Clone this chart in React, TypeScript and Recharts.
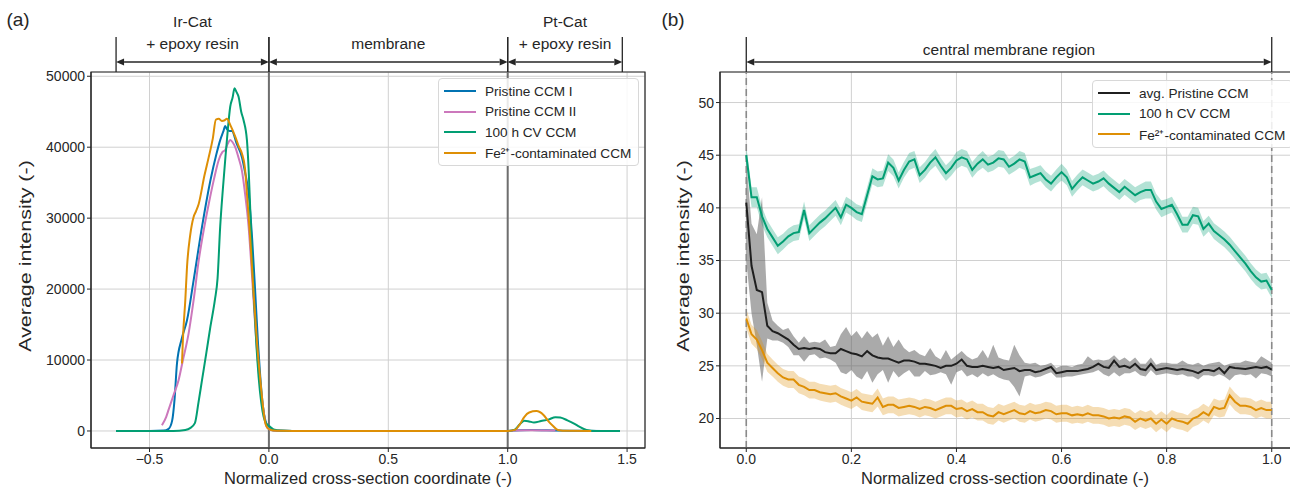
import React from 'react';
import {
  ComposedChart,
  Line,
  Area,
  XAxis,
  YAxis,
  CartesianGrid,
  ReferenceLine,
  ReferenceArea,
  Legend,
} from 'recharts';

const FONT = '"Liberation Sans", Arial, Helvetica, sans-serif';
const INK = '#262626';
const GRID = '#d0d0d0';

const C_BLUE = '#0173B2';
const C_PINK = '#CC78BC';
const C_GREEN = '#029E73';
const C_ORANGE = '#DE8F05';
const C_BLACK = '#1f1f1f';

// ---------------- Panel (a): full cross-section profiles ----------------
const seriesNamesA = ['Pristine CCM I', 'Pristine CCM II', '100 h CV CCM', 'Fe\u00B2\u207A-contaminated CCM'];

const pristineIX = [-0.64, -0.5, -0.44, -0.42, -0.405, -0.395, -0.385, -0.365, -0.343, -0.315, -0.28, -0.245, -0.22, -0.204, -0.19, -0.183, -0.175, -0.165, -0.155, -0.135, -0.113, -0.1, -0.085, -0.07, -0.057, -0.045, -0.036, -0.025, -0.015, -0.005, 0.005, 0.02, 0.05, 0.1, 0.5, 1.0, 1.05, 1.1, 1.2, 1.3, 1.47];
const pristineIY = [0, 0, 50, 300, 1500, 4500, 9500, 13000, 15600, 21300, 28800, 35300, 39000, 41000, 42300, 43000, 42500, 42300, 42300, 40500, 38600, 36500, 33500, 27000, 19400, 12000, 7600, 3500, 1500, 600, 250, 80, 30, 10, 0, 0, 100, 120, 60, 20, 0];

const pristineIIX = [-0.448, -0.43, -0.42, -0.4, -0.378, -0.36, -0.336, -0.315, -0.294, -0.272, -0.252, -0.23, -0.21, -0.195, -0.183, -0.172, -0.162, -0.152, -0.141, -0.127, -0.113, -0.1, -0.085, -0.07, -0.057, -0.043, -0.029, -0.018, -0.008, 0.005, 0.02, 0.05, 0.1, 0.5, 1.0, 1.03, 1.1, 1.2];
const pristineIIY = [800, 2000, 3000, 5000, 7200, 10000, 13800, 18500, 24000, 28500, 32000, 35500, 38200, 39300, 39600, 40500, 41000, 40700, 40000, 38500, 36700, 33500, 28800, 21500, 14700, 8500, 4400, 1800, 500, 200, 80, 30, 10, 0, 0, 80, 100, 60];

const cv100X = [-0.64, -0.4, -0.35, -0.33, -0.31, -0.295, -0.28, -0.262, -0.245, -0.226, -0.215, -0.204, -0.193, -0.183, -0.172, -0.162, -0.152, -0.144, -0.136, -0.127, -0.116, -0.106, -0.092, -0.085, -0.078, -0.064, -0.053, -0.043, -0.032, -0.022, -0.01, 0.005, 0.02, 0.05, 0.1, 0.5, 1.0, 1.03, 1.05, 1.07, 1.09, 1.11, 1.14, 1.17, 1.2, 1.22, 1.25, 1.28, 1.3, 1.33, 1.37, 1.47];
const cv100Y = [0, 0, 150, 400, 1100, 4000, 7200, 11000, 14700, 18500, 21500, 28800, 34000, 38200, 42500, 45700, 47000, 48300, 47800, 47100, 45000, 43800, 41000, 37000, 31100, 19400, 12500, 7600, 4000, 2000, 1000, 600, 200, 50, 10, 0, 0, 200, 900, 1450, 1350, 1200, 1400, 1600, 1950, 1900, 1500, 1000, 600, 150, 0, 0];

const feX = [-0.364, -0.36, -0.35, -0.343, -0.33, -0.315, -0.305, -0.294, -0.27, -0.252, -0.235, -0.222, -0.21, -0.197, -0.185, -0.176, -0.16, -0.141, -0.127, -0.113, -0.1, -0.092, -0.078, -0.064, -0.05, -0.036, -0.025, -0.015, -0.005, 0.005, 0.02, 0.05, 0.1, 0.5, 1.0, 1.03, 1.05, 1.07, 1.09, 1.12, 1.15, 1.17, 1.19, 1.21, 1.25, 1.35];
const feY = [9500, 13000, 18500, 23100, 27500, 30200, 31000, 32000, 36000, 38600, 41200, 43900, 44000, 43700, 43800, 44000, 43000, 41500, 40200, 39100, 37000, 33500, 27000, 19400, 12500, 7200, 3500, 1100, 400, 200, 60, 20, 10, 0, 0, 150, 900, 2000, 2600, 2800, 2250, 1400, 700, 150, 20, 0];

const ticksAX = [-0.5, 0, 0.5, 1.0, 1.5];
const ticksAY = [0, 10000, 20000, 30000, 40000, 50000];
const domainAX: [number, number] = [-0.745, 1.575];
const domainAY: [number, number] = [-2400, 50600];

const regionBoundsA = [-0.64, 0, 1.0, 1.48];
const regionLabelsA = [['Ir-Cat', '+ epoxy resin'], ['membrane'], ['Pt-Cat', '+ epoxy resin']];
const layerLinesA = [0, 1.0];

// ---------------- Panel (b): central membrane region ----------------
const seriesNamesB = ['avg. Pristine CCM', '100 h CV CCM', 'Fe\u00B2\u207A-contaminated CCM'];
const coordB = Array.from({ length: 101 }, (_, i) => i / 100);

const pristineAvg = [40.5, 34.5, 32.2, 32.0, 28.8, 28.3, 28.1, 27.8, 27.5, 27.0, 26.6, 26.7, 26.6, 26.7, 26.6, 26.3, 26.2, 26.2, 26.6, 26.4, 26.2, 26.1, 25.9, 26.4, 26.0, 25.8, 25.7, 25.7, 25.5, 25.3, 25.5, 25.5, 25.4, 25.2, 25.2, 25.1, 25.0, 24.8, 25.0, 25.0, 25.2, 25.6, 25.0, 24.9, 24.9, 25.0, 24.9, 24.8, 24.9, 24.6, 24.7, 24.8, 24.5, 24.6, 24.6, 24.4, 24.5, 24.7, 24.9, 24.3, 24.4, 24.5, 24.5, 24.5, 24.6, 24.7, 24.9, 25.2, 24.9, 24.8, 25.5, 24.9, 25.0, 24.8, 25.2, 24.7, 24.6, 25.2, 24.6, 24.7, 24.8, 24.7, 24.6, 24.7, 24.6, 24.5, 24.3, 24.6, 24.6, 24.5, 24.8, 24.3, 24.9, 24.8, 24.75, 24.7, 24.8, 24.9, 24.8, 24.9, 24.65];
const pristineLo = [35.0, 30.0, 27.0, 23.5, 27.6, 27.4, 27.4, 27.2, 26.8, 26.0, 26.0, 25.4, 26.0, 26.1, 25.7, 25.8, 25.6, 25.3, 24.4, 24.2, 24.6, 24.0, 23.7, 24.5, 23.4, 24.2, 24.6, 23.4, 24.5, 23.9, 24.3, 24.6, 24.0, 24.0, 24.5, 24.1, 24.2, 24.4, 24.2, 23.2, 24.4, 24.6, 24.0, 24.2, 23.9, 24.3, 24.0, 24.2, 23.9, 23.7, 23.6, 23.0, 22.1, 24.0, 24.1, 23.9, 24.0, 24.2, 24.4, 23.9, 23.9, 24.0, 24.0, 24.1, 24.2, 24.3, 24.4, 24.6, 24.2, 24.0, 24.4, 24.0, 24.3, 24.3, 24.5, 24.1, 24.0, 24.6, 24.1, 24.2, 24.3, 24.2, 24.1, 24.2, 24.0, 24.0, 23.7, 24.1, 24.1, 24.0, 24.2, 24.0, 23.6, 24.1, 24.2, 24.1, 24.2, 23.8, 24.3, 24.2, 24.0];
const pristineHi = [44.5, 38.5, 37.5, 41.0, 31.0, 29.3, 28.8, 28.4, 28.6, 27.8, 27.2, 27.8, 27.2, 27.3, 27.2, 27.5, 26.8, 26.9, 28.0, 28.7, 27.8, 28.3, 27.6, 28.3, 27.7, 28.1, 26.9, 27.8, 26.8, 27.5, 26.7, 26.3, 26.5, 26.1, 25.9, 26.7, 25.9, 25.6, 26.5, 25.6, 26.0, 26.4, 25.9, 25.6, 25.8, 26.5, 25.7, 27.0, 25.8, 25.6, 25.5, 27.0, 26.0, 25.3, 25.2, 25.3, 25.0, 25.1, 25.3, 24.8, 25.0, 25.0, 24.9, 25.1, 25.2, 25.9, 25.5, 25.6, 25.5, 25.6, 26.0, 25.5, 25.8, 25.4, 25.8, 25.2, 25.2, 25.8, 25.1, 25.3, 25.3, 25.2, 25.2, 25.5, 25.2, 25.1, 25.3, 25.0, 25.2, 25.3, 25.4, 25.0, 25.2, 25.3, 25.3, 25.5, 25.4, 25.3, 25.9, 25.6, 25.3];

const cvCentral = [45.0, 41.0, 41.0, 39.2, 38.0, 37.2, 36.4, 36.8, 37.3, 37.6, 37.7, 39.8, 37.6, 38.1, 38.6, 39.0, 39.5, 40.0, 39.1, 40.3, 40.0, 39.6, 39.4, 41.2, 43.0, 42.7, 42.8, 44.3, 43.8, 42.6, 43.6, 44.4, 44.6, 43.1, 43.6, 44.3, 44.8, 44.0, 43.3, 43.8, 44.5, 44.8, 44.6, 43.6, 44.2, 44.6, 44.1, 44.3, 44.7, 44.6, 43.9, 44.2, 44.6, 44.4, 42.9, 43.1, 43.3, 42.7, 42.3, 42.9, 43.4, 42.9, 41.8, 42.4, 42.9, 42.6, 42.3, 42.5, 42.8, 42.3, 41.9, 41.5, 42.0, 41.6, 41.2, 41.5, 41.7, 41.7, 40.6, 39.9, 40.1, 40.3, 39.4, 38.4, 38.4, 39.3, 39.2, 38.0, 38.5, 37.8, 37.4, 37.0, 36.5, 35.9, 35.3, 34.7, 34.0, 33.4, 33.0, 33.1, 32.2];
const cvErr = [0.9, 0.95, 0.95, 0.85, 0.8, 0.8, 0.8, 0.75, 0.75, 0.75, 0.75, 0.8, 0.75, 0.75, 0.75, 0.75, 0.75, 0.75, 0.75, 0.75, 0.75, 0.75, 0.75, 0.75, 0.75, 0.75, 0.75, 0.8, 0.8, 0.75, 0.75, 0.8, 0.8, 0.75, 0.75, 0.75, 0.8, 0.75, 0.75, 0.75, 0.8, 0.8, 0.8, 0.75, 0.75, 0.8, 0.75, 0.75, 0.8, 0.8, 0.75, 0.75, 0.8, 0.8, 0.8, 0.75, 0.75, 0.75, 0.75, 0.75, 0.8, 0.75, 0.75, 0.75, 0.75, 0.75, 0.75, 0.75, 0.75, 0.75, 0.75, 0.75, 0.75, 0.75, 0.75, 0.75, 0.8, 0.8, 0.75, 0.8, 0.75, 0.75, 0.75, 0.75, 0.75, 0.8, 0.8, 0.75, 0.75, 0.75, 0.75, 0.75, 0.75, 0.75, 0.75, 0.75, 0.75, 0.75, 0.75, 0.75, 0.75];

const feCentral = [29.5, 28.0, 27.5, 26.5, 25.3, 24.8, 24.3, 23.9, 23.7, 23.7, 23.2, 23.0, 22.7, 22.7, 22.5, 22.4, 22.3, 22.4, 22.1, 21.9, 21.7, 22.0, 21.6, 21.5, 21.4, 22.0, 21.1, 21.3, 21.3, 21.0, 21.1, 21.2, 21.1, 20.9, 21.1, 21.0, 20.8, 21.0, 21.2, 21.2, 20.9, 21.0, 20.7, 20.9, 20.6, 20.6, 20.3, 20.2, 20.6, 20.4, 20.6, 20.8, 20.5, 20.4, 20.7, 20.5, 20.6, 20.8, 20.7, 20.4, 20.5, 20.5, 20.3, 20.4, 20.3, 20.5, 20.3, 20.3, 20.2, 20.0, 20.1, 20.0, 20.2, 20.1, 19.7, 20.0, 19.8, 20.0, 19.5, 19.9, 19.5, 20.0, 19.8, 19.7, 19.5, 20.0, 20.2, 20.6, 20.3, 21.1, 20.9, 21.0, 22.2, 21.6, 21.2, 21.2, 21.1, 20.8, 21.0, 20.8, 20.8];
const feErr = [0.9, 0.9, 0.9, 0.85, 0.85, 0.8, 0.8, 0.8, 0.8, 0.8, 0.8, 0.8, 0.8, 0.8, 0.8, 0.8, 0.8, 0.8, 0.8, 0.8, 0.8, 0.8, 0.8, 0.8, 0.8, 0.85, 0.8, 0.8, 0.8, 0.8, 0.8, 0.8, 0.8, 0.8, 0.8, 0.8, 0.8, 0.8, 0.8, 0.8, 0.8, 0.8, 0.8, 0.8, 0.8, 0.8, 0.8, 0.8, 0.8, 0.8, 0.8, 0.8, 0.8, 0.8, 0.8, 0.8, 0.8, 0.8, 0.8, 0.8, 0.8, 0.8, 0.8, 0.8, 0.8, 0.8, 0.8, 0.8, 0.8, 0.8, 0.8, 0.8, 0.8, 0.8, 0.8, 0.8, 0.8, 0.8, 0.8, 0.8, 0.8, 0.8, 0.8, 0.8, 0.8, 0.8, 0.8, 0.8, 0.8, 0.8, 0.8, 0.8, 0.85, 0.85, 0.8, 0.8, 0.8, 0.8, 0.8, 0.8, 0.8];

const ticksBX = [0, 0.2, 0.4, 0.6, 0.8, 1.0];
const ticksBY = [20, 25, 30, 35, 40, 45, 50];
const domainBX: [number, number] = [-0.05, 1.05];
const domainBY: [number, number] = [17.2, 52.9];
const regionBoundsB = [0, 1.0];
const regionLabelsB = [['central membrane region']];

const toXY = (xs: number[], ys: number[]) => xs.map((x, i) => ({ x, y: ys[i] }));

const tableB = coordB.map((x, i) => ({
  x,
  avg: pristineAvg[i],
  avgBand: [pristineLo[i], pristineHi[i]],
  cv: cvCentral[i],
  cvBand: [cvCentral[i] - cvErr[i], cvCentral[i] + cvErr[i]],
  fe: feCentral[i],
  feBand: [feCentral[i] - feErr[i], feCentral[i] + feErr[i]],
}));

// ---------- helpers ----------
const fmtTick = (v: number) => (v < 0 ? '\u2212' + Math.abs(v).toFixed(1) : v.toFixed(1));

function regionShape(lines: string[], barUp: number, arrowUp: number, textUp: number, lineGap: number) {
  return (p: any) => {
    const { x1, x2, y1 } = p;
    const left = Math.min(x1, x2);
    const right = Math.max(x1, x2);
    const ay = y1 - arrowUp;
    const h = 8;
    const w = 3.5;
    const cx = (left + right) / 2;
    return (
      <g>
        <line x1={left} y1={y1} x2={left} y2={y1 - barUp} stroke={INK} strokeWidth={1.3} />
        <line x1={right} y1={y1} x2={right} y2={y1 - barUp} stroke={INK} strokeWidth={1.3} />
        <line x1={left + h} y1={ay} x2={right - h} y2={ay} stroke={INK} strokeWidth={1.4} />
        <polygon points={`${left},${ay} ${left + h},${ay - w} ${left + h},${ay + w}`} fill={INK} />
        <polygon points={`${right},${ay} ${right - h},${ay - w} ${right - h},${ay + w}`} fill={INK} />
        {lines.map((t, k) => (
          <text
            key={k}
            x={cx}
            y={y1 - textUp - (lines.length - 1 - k) * lineGap}
            textAnchor="middle"
            fontSize={15.5}
            fontFamily={FONT}
            fill={INK}
          >
            {t}
          </text>
        ))}
      </g>
    );
  };
}

const makeLegend = (order: string[]) => (props: any) => {
  const items = (props.payload || [])
    .filter((p: any) => p.type !== 'none' && order.indexOf(p.value) >= 0)
    .slice()
    .sort((a: any, b: any) => order.indexOf(a.value) - order.indexOf(b.value));
  return (
    <div
      style={{
        border: '1px solid #d8d8d8',
        borderRadius: 4,
        background: 'rgba(255,255,255,0.85)',
        padding: '2px 7px 2px 5px',
        fontFamily: FONT,
        fontSize: 13.6,
        color: INK,
        whiteSpace: 'nowrap',
      }}
    >
      {items.map((it: any, k: number) => (
        <div key={k} style={{ display: 'flex', alignItems: 'center', height: 20.5 }}>
          <span style={{ display: 'inline-block', width: 32, borderTop: `2px solid ${it.color}`, marginRight: 9 }} />
          <span>{it.value}</span>
        </div>
      ))}
    </div>
  );
};

const tickStyle = { fontSize: 14, fill: INK, fontFamily: FONT };

function PanelA() {
  return (
    <ComposedChart width={660} height={494} margin={{ top: 72, right: 15, bottom: 16, left: 31 }}>
      <CartesianGrid stroke={GRID} strokeWidth={1} />
      <XAxis
        dataKey="x"
        type="number"
        domain={domainAX}
        ticks={ticksAX}
        allowDataOverflow
        tickFormatter={fmtTick}
        tick={tickStyle}
        tickSize={4}
        height={30}
        stroke={INK}
      />
      <YAxis
        type="number"
        domain={domainAY}
        ticks={ticksAY}
        allowDataOverflow
        tick={tickStyle}
        tickSize={4}
        width={60}
        stroke={INK}
      />
      <ReferenceArea x1={domainAX[0]} x2={domainAX[1]} y1={domainAY[0]} y2={domainAY[1]} fill="none" stroke={INK} strokeWidth={1.2} />
      {layerLinesA.map((x) => (
        <ReferenceLine key={x} x={x} stroke="#6e6e6e" strokeWidth={2} />
      ))}
      {regionLabelsA.map((lab, k) => (
        <ReferenceLine
          key={'r' + k}
          segment={[
            { x: regionBoundsA[k], y: domainAY[1] },
            { x: regionBoundsA[k + 1], y: domainAY[1] },
          ]}
          ifOverflow="visible"
          shape={regionShape(lab, 35, 10, 23, 22)}
        />
      ))}
      <Line data={toXY(pristineIX, pristineIY)} dataKey="y" name={seriesNamesA[0]} stroke={C_BLUE} strokeWidth={2} dot={false} type="monotone" isAnimationActive={false} />
      <Line data={toXY(pristineIIX, pristineIIY)} dataKey="y" name={seriesNamesA[1]} stroke={C_PINK} strokeWidth={2} dot={false} type="monotone" isAnimationActive={false} />
      <Line data={toXY(cv100X, cv100Y)} dataKey="y" name={seriesNamesA[2]} stroke={C_GREEN} strokeWidth={2} dot={false} type="monotone" isAnimationActive={false} />
      <Line data={toXY(feX, feY)} dataKey="y" name={seriesNamesA[3]} stroke={C_ORANGE} strokeWidth={2} dot={false} type="monotone" isAnimationActive={false} />
      <Legend layout="vertical" align="center" verticalAlign="middle" wrapperStyle={{ left: 438, top: 78, width: 'auto' }} content={makeLegend(seriesNamesA)} />
    </ComposedChart>
  );
}

function PanelB() {
  return (
    <ComposedChart width={660} height={494} data={tableB} margin={{ top: 72, right: 22, bottom: 16, left: 20 }}>
      <CartesianGrid stroke={GRID} strokeWidth={1} />
      <XAxis
        dataKey="x"
        type="number"
        domain={domainBX}
        ticks={ticksBX}
        allowDataOverflow
        tickFormatter={(v: number) => v.toFixed(1)}
        tick={tickStyle}
        tickSize={4}
        height={30}
        stroke={INK}
      />
      <YAxis
        type="number"
        domain={domainBY}
        ticks={ticksBY}
        allowDataOverflow
        tick={tickStyle}
        tickSize={4}
        width={40}
        stroke={INK}
      />
      <ReferenceArea x1={domainBX[0]} x2={domainBX[1]} y1={domainBY[0]} y2={domainBY[1]} fill="none" stroke={INK} strokeWidth={1.2} />
      {regionBoundsB.map((x) => (
        <ReferenceLine key={x} x={x} stroke="#8a8a8a" strokeWidth={1.6} strokeDasharray="7 4" />
      ))}
      {regionLabelsB.map((lab, k) => (
        <ReferenceLine
          key={'r' + k}
          segment={[
            { x: regionBoundsB[k], y: domainBY[1] },
            { x: regionBoundsB[k + 1], y: domainBY[1] },
          ]}
          ifOverflow="visible"
          shape={regionShape(lab, 35, 10, 17, 22)}
        />
      ))}
      <Area dataKey="avgBand" type="linear" stroke="none" fill="#555555" fillOpacity={0.5} legendType="none" isAnimationActive={false} activeDot={false} />
      <Line dataKey="avg" name={seriesNamesB[0]} stroke={C_BLACK} strokeWidth={2} dot={false} type="linear" isAnimationActive={false} />
      <Area dataKey="cvBand" type="linear" stroke="none" fill={C_GREEN} fillOpacity={0.3} legendType="none" isAnimationActive={false} activeDot={false} />
      <Line dataKey="cv" name={seriesNamesB[1]} stroke={C_GREEN} strokeWidth={2} dot={false} type="linear" isAnimationActive={false} />
      <Area dataKey="feBand" type="linear" stroke="none" fill={C_ORANGE} fillOpacity={0.3} legendType="none" isAnimationActive={false} activeDot={false} />
      <Line dataKey="fe" name={seriesNamesB[2]} stroke={C_ORANGE} strokeWidth={2} dot={false} type="linear" isAnimationActive={false} />
      <Legend layout="vertical" align="center" verticalAlign="middle" wrapperStyle={{ left: 432, top: 80, width: 'auto' }} content={makeLegend(seriesNamesB)} />
    </ComposedChart>
  );
}

const labelStyle: React.CSSProperties = {
  position: 'absolute',
  fontFamily: FONT,
  fontSize: 16.5,
  color: INK,
  whiteSpace: 'nowrap',
  transform: 'translate(-50%, -50%)',
};

const yLabelTransform = 'translate(-50%, -50%) rotate(-90deg) scale(1.3, 1)';

export default function App() {
  return (
    <div style={{ position: 'absolute', left: 0, top: 0, width: 1290, height: 494, overflow: 'hidden', background: '#fff' }}>
      <div style={{ position: 'absolute', left: 0, top: 0 }}>
        <PanelA />
      </div>
      <div style={{ position: 'absolute', left: 660, top: 0 }}>
        <PanelB />
      </div>
      <div style={{ ...labelStyle, left: 18, top: 20, fontSize: 19 }}>(a)</div>
      <div style={{ ...labelStyle, left: 673, top: 20, fontSize: 19 }}>(b)</div>
      <div style={{ ...labelStyle, left: 25, top: 256, transform: yLabelTransform }}>Average intensity (-)</div>
      <div style={{ ...labelStyle, left: 683, top: 256, transform: yLabelTransform }}>Average intensity (-)</div>
      <div style={{ ...labelStyle, left: 368, top: 478 }}>Normalized cross-section coordinate (-)</div>
      <div style={{ ...labelStyle, left: 1005, top: 478 }}>Normalized cross-section coordinate (-)</div>
    </div>
  );
}
